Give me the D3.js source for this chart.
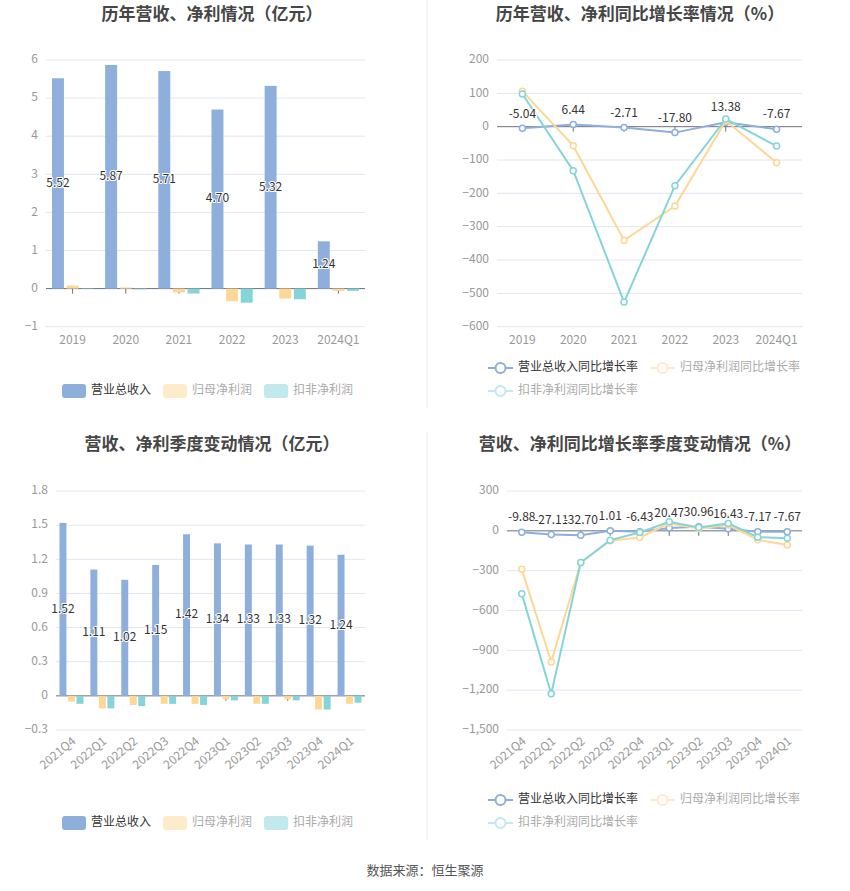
<!DOCTYPE html>
<html>
<head>
<meta charset="utf-8">
<script src="https://cdn.jsdelivr.net/npm/d3@7"></script>
<style>
body{margin:0;background:#fff;}
svg{font-family:"Noto Sans CJK SC","Noto Sans",sans-serif;}
</style>
</head>
<body>
<script>
// yearly data
var years = ['2019','2020','2021','2022','2023','2024Q1'];
var revYear = [5.52, 5.87, 5.71, 4.70, 5.32, 1.24];
var netYear = [0.08, 0.03, -0.10, -0.33, -0.26, -0.06];
var deductYear = [-0.01, -0.02, -0.13, -0.37, -0.28, -0.06];
var revYearG = [-5.04, 6.44, -2.71, -17.80, 13.38, -7.67];
var netYearG = [106, -57, -341, -238, 18, -108];
var deductYearG = [98, -132, -526, -177, 23, -58];

// quarterly data
var quarters = ['2021Q4','2022Q1','2022Q2','2022Q3','2022Q4','2023Q1','2023Q2','2023Q3','2023Q4','2024Q1'];
var revQ = [1.52, 1.11, 1.02, 1.15, 1.42, 1.34, 1.33, 1.33, 1.32, 1.24];
var netQ = [-0.05, -0.11, -0.08, -0.07, -0.07, -0.03, -0.07, -0.03, -0.12, -0.07];
var deductQ = [-0.07, -0.11, -0.09, -0.07, -0.08, -0.04, -0.07, -0.04, -0.12, -0.06];
var revQG = [-9.88, -27.11, -32.70, 1.01, -6.43, 20.47, 30.96, 16.43, -7.17, -7.67];
var netQG = [-290, -987, -239, -75, -50, 56, 18, 43, -68, -106];
var deductQG = [-473, -1227, -239, -70, -12, 68, 26, 56, -48, -55];

var ticks1 = [-1,0,1,2,3,4,5,6];
var ticks2 = [-600,-500,-400,-300,-200,-100,0,100,200];
var ticks3 = [-0.3,0,0.3,0.6,0.9,1.2,1.5,1.8];
var ticks4 = [-1500,-1200,-900,-600,-300,0,300];

var barNames = ['营业总收入','归母净利润','扣非净利润'];
var lineNames = ['营业总收入同比增长率','归母净利润同比增长率','扣非净利润同比增长率'];
var colors = ['#8eaedc','#fdd794','#85d4d8'];
var paleColors = ['#8eaedc','#fdebc9','#c2e9ec'];

var svg = d3.select('body').append('svg').attr('width',850).attr('height',891);

// dividers
svg.append('line').attr('x1',427).attr('x2',427).attr('y1',0).attr('y2',408).attr('stroke','#eee');
svg.append('line').attr('x1',427).attr('x2',427).attr('y1',432).attr('y2',840).attr('stroke','#eee');

function title(t, cx, cy){
  svg.append('text').text(t).attr('x',cx).attr('y',cy).attr('text-anchor','middle')
    .attr('dominant-baseline','middle').style('font-size','17px').style('font-weight','bold').attr('fill','#464646');
}
title('历年营收、净利情况（亿元）',212,15);
title('历年营收、净利同比增长率情况（%）',640,15);
title('营收、净利季度变动情况（亿元）',212,445);
title('营收、净利同比增长率季度变动情况（%）',640,445);

svg.append('text').text('数据来源：恒生聚源').attr('x',425).attr('y',871).attr('text-anchor','middle')
  .attr('dominant-baseline','middle').style('font-size','13px').attr('fill','#555');

function axes(cats, ticks, x, y, fmt, rotate){
  var g = svg.append('g');
  var x0 = x.range()[0], x1 = x.range()[1];
  ticks.forEach(function(t){
    if(t!==0){
      g.append('line').attr('x1',x0).attr('x2',x1).attr('y1',y(t)).attr('y2',y(t)).attr('stroke','#e0e6f1');
    }
    g.append('text').text(fmt(t)).attr('x',x0-8).attr('y',y(t)).attr('text-anchor','end')
      .attr('dominant-baseline','middle').style('font-size','12px').attr('fill','#999');
  });
  g.append('line').attr('x1',x0).attr('x2',x1).attr('y1',y(0)).attr('y2',y(0)).attr('stroke','#6e7079');
  var by = y(ticks[0]) + 14;
  cats.forEach(function(c){
    var cx = x(c) + x.bandwidth()/2;
    g.append('line').attr('x1',cx).attr('x2',cx).attr('y1',y(0)).attr('y2',y(0)+5).attr('stroke','#6e7079');
    if(rotate){
      g.append('text').text(c).attr('transform','translate('+(cx+3)+','+(y(ticks[0])+10)+') rotate(-40)')
        .attr('text-anchor','end').attr('dominant-baseline','middle').style('font-size','12px').attr('fill','#999');
    } else {
      g.append('text').text(c).attr('x',cx).attr('y',by).attr('text-anchor','middle')
        .attr('dominant-baseline','middle').style('font-size','12px').attr('fill','#999');
    }
  });
}

function barChart(cats, series, ticks, xr, yr, fmt, rotate, legendY, legendX){
  var x = d3.scaleBand().domain(cats).range(xr);
  var y = d3.scaleLinear().domain([ticks[0], ticks[ticks.length-1]]).range(yr);
  axes(cats, ticks, x, y, fmt, rotate);
  var bw = x.bandwidth()*0.225, gap = x.bandwidth()*0.05;
  var total = bw*3 + gap*2;
  series.forEach(function(s, i){
    svg.append('g').selectAll('rect').data(s).join('rect')
      .attr('x', function(d,j){ return x(cats[j]) + (x.bandwidth()-total)/2 + i*(bw+gap); })
      .attr('y', function(d){ return Math.min(y(d), y(0)); })
      .attr('width', bw)
      .attr('height', function(d){ return Math.abs(y(d)-y(0)); })
      .attr('fill', colors[i]);
  });
  svg.append('g').selectAll('text').data(series[0]).join('text')
    .text(function(d){ return d.toFixed(2); })
    .attr('x', function(d,j){ return x(cats[j]) + (x.bandwidth()-total)/2 + bw/2; })
    .attr('y', function(d){ return (y(d)+y(0))/2; })
    .attr('text-anchor','middle').attr('dominant-baseline','middle')
    .style('font-size','12px').attr('fill','#333')
    .attr('stroke','#fff').attr('stroke-width',2).attr('paint-order','stroke');
  // legend
  var lx = legendX;
  barNames.forEach(function(n, i){
    svg.append('rect').attr('x',lx).attr('y',legendY-7).attr('width',24).attr('height',14).attr('rx',3)
      .attr('fill', paleColors[i]);
    var t = svg.append('text').text(n).attr('x',lx+29).attr('y',legendY).attr('dominant-baseline','middle')
      .style('font-size','12px').attr('fill', i===0 ? '#333' : '#aaa');
    lx += 29 + t.node().getComputedTextLength() + 12;
  });
}

function lineChart(cats, series, ticks, xr, yr, fmt, rotate, legendY){
  var x = d3.scaleBand().domain(cats).range(xr);
  var y = d3.scaleLinear().domain([ticks[0], ticks[ticks.length-1]]).range(yr);
  axes(cats, ticks, x, y, fmt, rotate);
  var line = d3.line().x(function(d,j){ return x(cats[j]) + x.bandwidth()/2; }).y(function(d){ return y(d); });
  series.forEach(function(s, i){
    svg.append('path').datum(s).attr('d', line).attr('fill','none').attr('stroke',colors[i]).attr('stroke-width',2);
    svg.append('g').selectAll('circle').data(s).join('circle')
      .attr('cx', function(d,j){ return x(cats[j]) + x.bandwidth()/2; })
      .attr('cy', function(d){ return y(d); })
      .attr('r',3).attr('fill','#fff').attr('stroke',colors[i]).attr('stroke-width',1.5);
  });
  svg.append('g').selectAll('text').data(series[0]).join('text')
    .text(function(d){ return d.toFixed(2); })
    .attr('x', function(d,j){ return x(cats[j]) + x.bandwidth()/2; })
    .attr('y', function(d){ return y(d) - 14; })
    .attr('text-anchor','middle').attr('dominant-baseline','middle')
    .style('font-size','12px').attr('fill','#333')
    .attr('stroke','#fff').attr('stroke-width',2).attr('paint-order','stroke');
  // legend
  var pos = [[488, legendY], [650, legendY], [488, legendY+23]];
  lineNames.forEach(function(n, i){
    var px = pos[i][0], py = pos[i][1];
    var c = i===0 ? colors[0] : paleColors[i];
    svg.append('line').attr('x1',px).attr('x2',px+25).attr('y1',py).attr('y2',py).attr('stroke',c).attr('stroke-width',2);
    svg.append('circle').attr('cx',px+12.5).attr('cy',py).attr('r',5).attr('fill','#fff').attr('stroke',c).attr('stroke-width',2);
    svg.append('text').text(n).attr('x',px+30).attr('y',py).attr('dominant-baseline','middle')
      .style('font-size','12px').attr('fill', i===0 ? '#333' : '#aaa');
  });
}

var fmtNum = d3.format(',');
var fmtQ = function(t){ return t===0 ? '0' : d3.format('.1f')(t); };

barChart(years, [revYear, netYear, deductYear], ticks1, [46,365], [326.7,60], fmtNum, false, 391, 62);
lineChart(years, [revYearG, netYearG, deductYearG], ticks2, [497,802], [326.7,60], fmtNum, false, 368);
barChart(quarters, [revQ, netQ, deductQ], ticks3, [56,365], [730,491], fmtQ, true, 823, 62);
lineChart(quarters, [revQG, netQG, deductQG], ticks4, [507,802], [730,491], fmtNum, true, 800);
</script>
</body>
</html>
